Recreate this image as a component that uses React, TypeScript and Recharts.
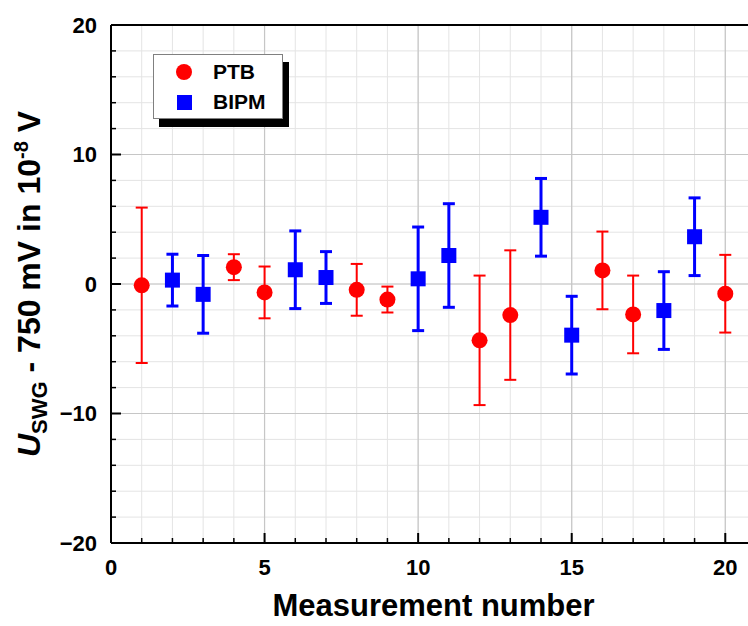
import React from 'react';
import { ComposedChart, Scatter, ErrorBar, XAxis, YAxis, CartesianGrid, ReferenceLine, Legend } from 'recharts';

// PTB (red circles) and BIPM (blue squares): measurement number, value, uncertainty
const ptbX = [1, 4, 5, 8, 9, 12, 13, 16, 17, 20];
const ptbY = [-0.1, 1.3, -0.65, -0.45, -1.2, -4.35, -2.4, 1.05, -2.35, -0.75];
const ptbErr = [6, 1, 2, 2, 1, 5, 5, 3, 3, 3];

const bipmX = [2, 3, 6, 7, 10, 11, 14, 15, 18, 19];
const bipmY = [0.3, -0.8, 1.1, 0.5, 0.4, 2.2, 5.15, -3.95, -2.05, 3.65];
const bipmErr = [2, 3, 3, 2, 4, 4, 3, 3, 3, 3];

const xTicks = Array.from({ length: 22 }, (_, i) => i);
const yTicks = Array.from({ length: 21 }, (_, i) => -20 + i * 2);
const xMajor = [5, 10, 15, 20];
const yMajor = [-10, 0, 10];

const ptbData = ptbX.map((x, i) => ({ x, y: ptbY[i], err: ptbErr[i] }));
const bipmData = bipmX.map((x, i) => ({ x, y: bipmY[i], err: bipmErr[i] }));

const FONT = '"Liberation Sans", Arial, sans-serif';
const RED = '#ff0000';
const BLUE = '#0000ff';

const fmt = (v: number) => (v < 0 ? '\u2212' + Math.abs(v) : String(v));

const LeftTick = (props: any) => {
    const { x, y, payload } = props;
    const major = payload.value % 10 === 0;
    return (
        <g>
            <line x1={x} x2={x + (major ? 10 : 5)} y1={y} y2={y} stroke="#000" strokeWidth={major ? 2 : 1.5} />
            {major && (
                <text x={x - 14} y={y} dy="0.36em" textAnchor="end" fontFamily={FONT} fontWeight="bold" fontSize={22} fill="#000">
                    {fmt(payload.value)}
                </text>
            )}
        </g>
    );
};

const BottomTick = (props: any) => {
    const { x, y, payload } = props;
    const major = payload.value % 5 === 0;
    return (
        <g>
            <line x1={x} x2={x} y1={y} y2={y - (major ? 10 : 5)} stroke="#000" strokeWidth={major ? 2 : 1.5} />
            {major && (
                <text x={x} y={y + 32} textAnchor="middle" fontFamily={FONT} fontWeight="bold" fontSize={22} fill="#000">
                    {payload.value}
                </text>
            )}
        </g>
    );
};

const TopTick = (props: any) => {
    const { x, y, payload } = props;
    const major = payload.value % 5 === 0;
    return <line x1={x} x2={x} y1={y} y2={y + (major ? 10 : 5)} stroke="#000" strokeWidth={major ? 2 : 1.5} />;
};

const YLabel = (props: any) => {
    const { viewBox } = props;
    const cy = viewBox.y + viewBox.height / 2;
    return (
        <text transform={`translate(40,${cy}) rotate(-90)`} textAnchor="middle" fontFamily={FONT} fontWeight="bold" fontSize={32} fill="#000">
            <tspan fontStyle="italic">U</tspan>
            <tspan fontSize={22} dy={7}>SWG</tspan>
            <tspan dy={-7}> - 750 mV in 10</tspan>
            <tspan fontSize={20} dy={-12}>-8</tspan>
            <tspan dy={12}> V</tspan>
        </text>
    );
};

const XLabel = (props: any) => {
    const { viewBox } = props;
    return (
        <text x={viewBox.x + viewBox.width / 2} y={616} textAnchor="middle" fontFamily={FONT} fontWeight="bold" fontSize={31} fill="#000">
            Measurement number
        </text>
    );
};

const LegendBox = () => (
    <div
        style={{
            position: 'relative',
            width: 130,
            height: 65,
            border: '1px solid #808080',
            background: '#fff',
            boxShadow: '6px 8px 0 #000',
            boxSizing: 'border-box',
            fontFamily: FONT,
            fontWeight: 'bold',
            fontSize: 21,
            color: '#000',
        }}
    >
        <div style={{ position: 'absolute', left: 22, top: 9, width: 16, height: 16, borderRadius: 8, background: RED }} />
        <div style={{ position: 'absolute', left: 59, top: 6, lineHeight: '22px' }}>PTB</div>
        <div style={{ position: 'absolute', left: 23, top: 40, width: 15, height: 15, background: BLUE }} />
        <div style={{ position: 'absolute', left: 59, top: 36, lineHeight: '22px' }}>BIPM</div>
    </div>
);

const circleShape = (props: any) => <circle cx={props.cx} cy={props.cy} r={8} fill={RED} />;
const squareShape = (props: any) => <rect x={props.cx - 7.5} y={props.cy - 7.5} width={15} height={15} fill={BLUE} />;

export default function App() {
    return (
        <div style={{ position: 'fixed', left: 0, top: 0, width: 748, height: 626, overflow: 'hidden', background: '#fff' }}>
            <ComposedChart width={770} height={626} margin={{ top: 24, right: 14, bottom: 0, left: 0 }}>
                <CartesianGrid stroke="#e4e4e4" strokeWidth={1} />
                {xMajor.map((v) => (
                    <ReferenceLine key={'x' + v} x={v} stroke="#c6c6c6" strokeWidth={1.2} />
                ))}
                {yMajor.map((v) => (
                    <ReferenceLine key={'y' + v} y={v} stroke="#c6c6c6" strokeWidth={1.2} />
                ))}
                <XAxis
                    type="number"
                    dataKey="x"
                    domain={[0, 21]}
                    ticks={xTicks}
                    interval={0}
                    height={83}
                    tickSize={0}
                    tickMargin={0}
                    tickLine={false}
                    axisLine={{ stroke: '#000', strokeWidth: 2 }}
                    tick={BottomTick}
                    label={{ content: XLabel }}
                />
                <XAxis
                    xAxisId="top"
                    orientation="top"
                    type="number"
                    dataKey="x"
                    domain={[0, 21]}
                    ticks={xTicks}
                    interval={0}
                    height={1}
                    tickSize={0}
                    tickMargin={0}
                    tickLine={false}
                    axisLine={{ stroke: '#000', strokeWidth: 2 }}
                    tick={TopTick}
                />
                <YAxis
                    type="number"
                    dataKey="y"
                    domain={[-20, 20]}
                    ticks={yTicks}
                    interval={0}
                    width={111}
                    tickSize={0}
                    tickMargin={0}
                    tickLine={false}
                    axisLine={{ stroke: '#000', strokeWidth: 2 }}
                    tick={LeftTick}
                    label={{ content: YLabel }}
                />
                <Legend
                    layout="vertical"
                    align="center"
                    verticalAlign="middle"
                    wrapperStyle={{ position: 'absolute', left: 153, top: 54, width: 130, height: 65 }}
                    content={LegendBox}
                />
                <Scatter name="PTB" data={ptbData} fill={RED} shape={circleShape} isAnimationActive={false}>
                    <ErrorBar dataKey="err" direction="y" width={6} stroke={RED} strokeWidth={2} isAnimationActive={false} />
                </Scatter>
                <Scatter name="BIPM" data={bipmData} fill={BLUE} shape={squareShape} isAnimationActive={false}>
                    <ErrorBar dataKey="err" direction="y" width={6} stroke={BLUE} strokeWidth={3} isAnimationActive={false} />
                </Scatter>
            </ComposedChart>
        </div>
    );
}
